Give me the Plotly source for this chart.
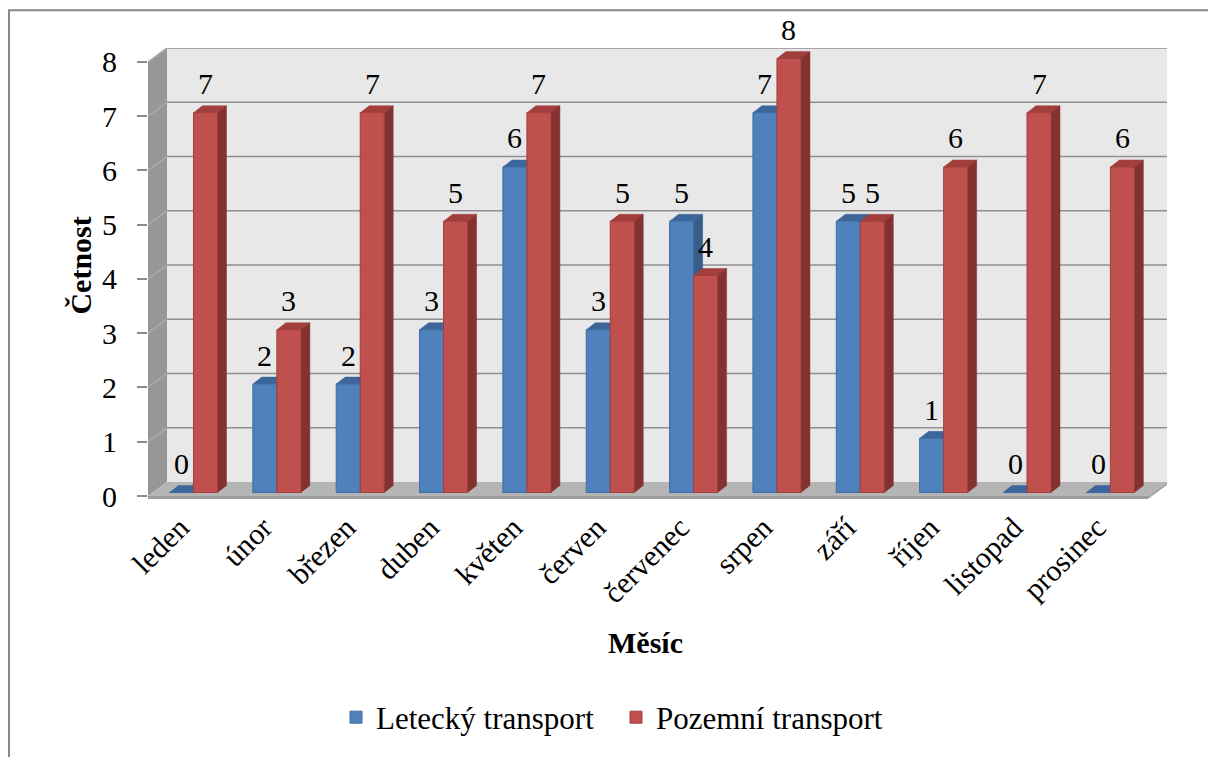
import plotly.graph_objects as go

# ---- data ----
months = ["leden", "únor", "březen", "duben", "květen", "červen",
          "červenec", "srpen", "září", "říjen", "listopad", "prosinec"]
letecky = [0, 2, 2, 3, 6, 3, 5, 7, 5, 1, 0, 0]
pozemni = [7, 3, 7, 5, 7, 5, 4, 8, 5, 6, 7, 6]
y_ticks = [0, 1, 2, 3, 4, 5, 6, 7, 8]
series_names = ["Letecký transport", "Pozemní transport"]
x_title = "Měsíc"
y_title = "Četnost"

# ---- geometry (pixels) ----
W, H = 1208, 757
L, R, T, B = 148, 1167, 48, 502
SX = 83.35          # px per category
X_LEFT = -0.546
X_RIGHT = X_LEFT + (R - L) / SX
SY = 54.625         # px per unit
Y0PX = 499
Y_BOTTOM = (Y0PX - B) / SY
Y_TOP = (Y0PX - T) / SY
WDX, WDY = 19 / SX, 14 / SY     # wall depth in data units
BDX, BDY = 9 / SX, 7 / SY       # bar depth
BASE = 3.5 / SY
BARGAP = 0.424
BW = (1 - BARGAP) / 2

FONT = "Liberation Serif, Times New Roman, serif"
FS = 30

def xd(px):
    return X_LEFT + (px - L) / SX

def poly(pts):
    return "M " + " L ".join(f"{x},{y}" for x, y in pts) + " Z"

shapes = []
def add_path(pts, fill, line=None, lw=0):
    shapes.append(dict(type="path", xref="x", yref="y", layer="below",
                       path=poly(pts), fillcolor=fill,
                       line=dict(color=line or fill, width=lw)))

xa, xb = xd(L), xd(L) + WDX
xr = X_RIGHT
# back wall
add_path([(xb, WDY), (xr, WDY), (xr, Y_TOP), (xb, Y_TOP)], "#E8E8E8")
# left wall
add_path([(xa, 0), (xb, WDY), (xb, y_ticks[-1] + WDY), (xa, y_ticks[-1])], "#979797")
# floor
add_path([(xa, 0), (xr - WDX, 0), (xr, WDY), (xb, WDY)], "#B5B5B5")
add_path([(xa, 0), (xr - WDX, 0), (xr - WDX, -3 / SY), (xa, -3 / SY)], "#9C9C9C")
add_path([(xr - WDX, 0), (xr, WDY), (xr, WDY - 3 / SY), (xr - WDX, -3 / SY)], "#A5A5A5")
# gridlines
for v in y_ticks[1:]:
    shapes.append(dict(type="line", xref="x", yref="y", layer="below",
                       x0=xa, y0=v, x1=xb, y1=v + WDY,
                       line=dict(color="#ABABAB", width=1.5)))
    shapes.append(dict(type="line", xref="x", yref="y", layer="below",
                       x0=xb, y0=v + WDY, x1=xr, y1=v + WDY,
                       line=dict(color="#8F8F8F", width=1.5)))

# 3D faces of bars
def bar_faces(values, offset, top_col, side_col):
    for i, v in enumerate(values):
        x0 = i + offset
        x1 = x0 + BW
        t = BASE + v
        b = BASE
        add_path([(x0, t), (x1, t), (x1 + BDX, t + BDY), (x0 + BDX, t + BDY)], top_col, top_col, 0.5)
        if v > 0:
            add_path([(x1, t), (x1 + BDX, t + BDY), (x1 + BDX, b + BDY), (x1, b)], side_col, side_col, 0.5)

bar_faces(letecky, -BW, "#3C6699", "#375C8A")
bar_faces(pozemni, 0, "#A23F3C", "#843230")

idx = list(range(len(months)))
fig = go.Figure()
fig.add_trace(go.Bar(x=idx, y=letecky, base=BASE, name=series_names[0],
                     marker=dict(color="#4F81BD", line=dict(color="#3D6CA3", width=1))))
fig.add_trace(go.Bar(x=idx, y=pozemni, base=BASE, name=series_names[1],
                     marker=dict(color="#C0504D", line=dict(color="#A13E3B", width=1))))

annotations = []
for vals, sgn in ((letecky, -1), (pozemni, 1)):
    for i, v in enumerate(vals):
        annotations.append(dict(x=i + sgn * BW / 2, y=BASE + v, xref="x", yref="y",
                                text=str(v), showarrow=False, yanchor="middle",
                                xanchor="center", yshift=29,
                                font=dict(family=FONT, size=FS, color="#000")))

PH = B - T
PW = R - L
def px_x(px):
    return (px - L) / PW
def px_y(py):
    return (B - py) / PH

annotations.append(dict(x=px_x(81), y=px_y(267), xref="paper", yref="paper",
                        xanchor="center", yanchor="middle",
                        text=f"<b>{y_title}</b>", textangle=-90, showarrow=False,
                        font=dict(family=FONT, size=FS, color="#000")))
annotations.append(dict(x=px_x(645), y=px_y(646), xref="paper", yref="paper",
                        xanchor="center", yanchor="middle",
                        text=f"<b>{x_title}</b>", showarrow=False,
                        font=dict(family=FONT, size=FS, color="#000")))

# outer border
shapes.append(dict(type="rect", xref="paper", yref="paper",
                   x0=px_x(9), y0=px_y(10), x1=px_x(1220), y1=px_y(770),
                   line=dict(color="#898989", width=2), fillcolor="rgba(0,0,0,0)"))

fig.update_layout(
    width=W, height=H,
    margin=dict(l=L, r=W - R, t=T, b=H - B),
    paper_bgcolor="white", plot_bgcolor="white",
    barmode="group", bargap=BARGAP, bargroupgap=0,
    shapes=shapes, annotations=annotations,
    font=dict(family=FONT, size=FS, color="#000"),
    showlegend=True,
    legend=dict(orientation="h", x=px_x(336), xanchor="left",
                y=px_y(722), yanchor="middle",
                entrywidth=235, entrywidthmode="pixels",
                font=dict(family=FONT, size=31, color="#000"),
                bgcolor="rgba(0,0,0,0)"),
    xaxis=dict(range=[X_LEFT, X_RIGHT], tickvals=[i - 0.16 for i in idx], ticktext=months,
               tickangle=-45, showgrid=False, zeroline=False, showline=False,
               ticks="", ticklabelstandoff=4,
               tickfont=dict(family=FONT, size=FS, color="#000")),
    yaxis=dict(range=[Y_BOTTOM, Y_TOP], tickvals=y_ticks,
               ticktext=[str(v) for v in y_ticks],
               showgrid=False, zeroline=False, showline=False,
               ticks="outside", ticklen=10, tickcolor="#8A8A8A", tickwidth=1.5,
               ticklabelstandoff=14,
               tickfont=dict(family=FONT, size=FS, color="#000")),
)

fig.write_html("out.html")
